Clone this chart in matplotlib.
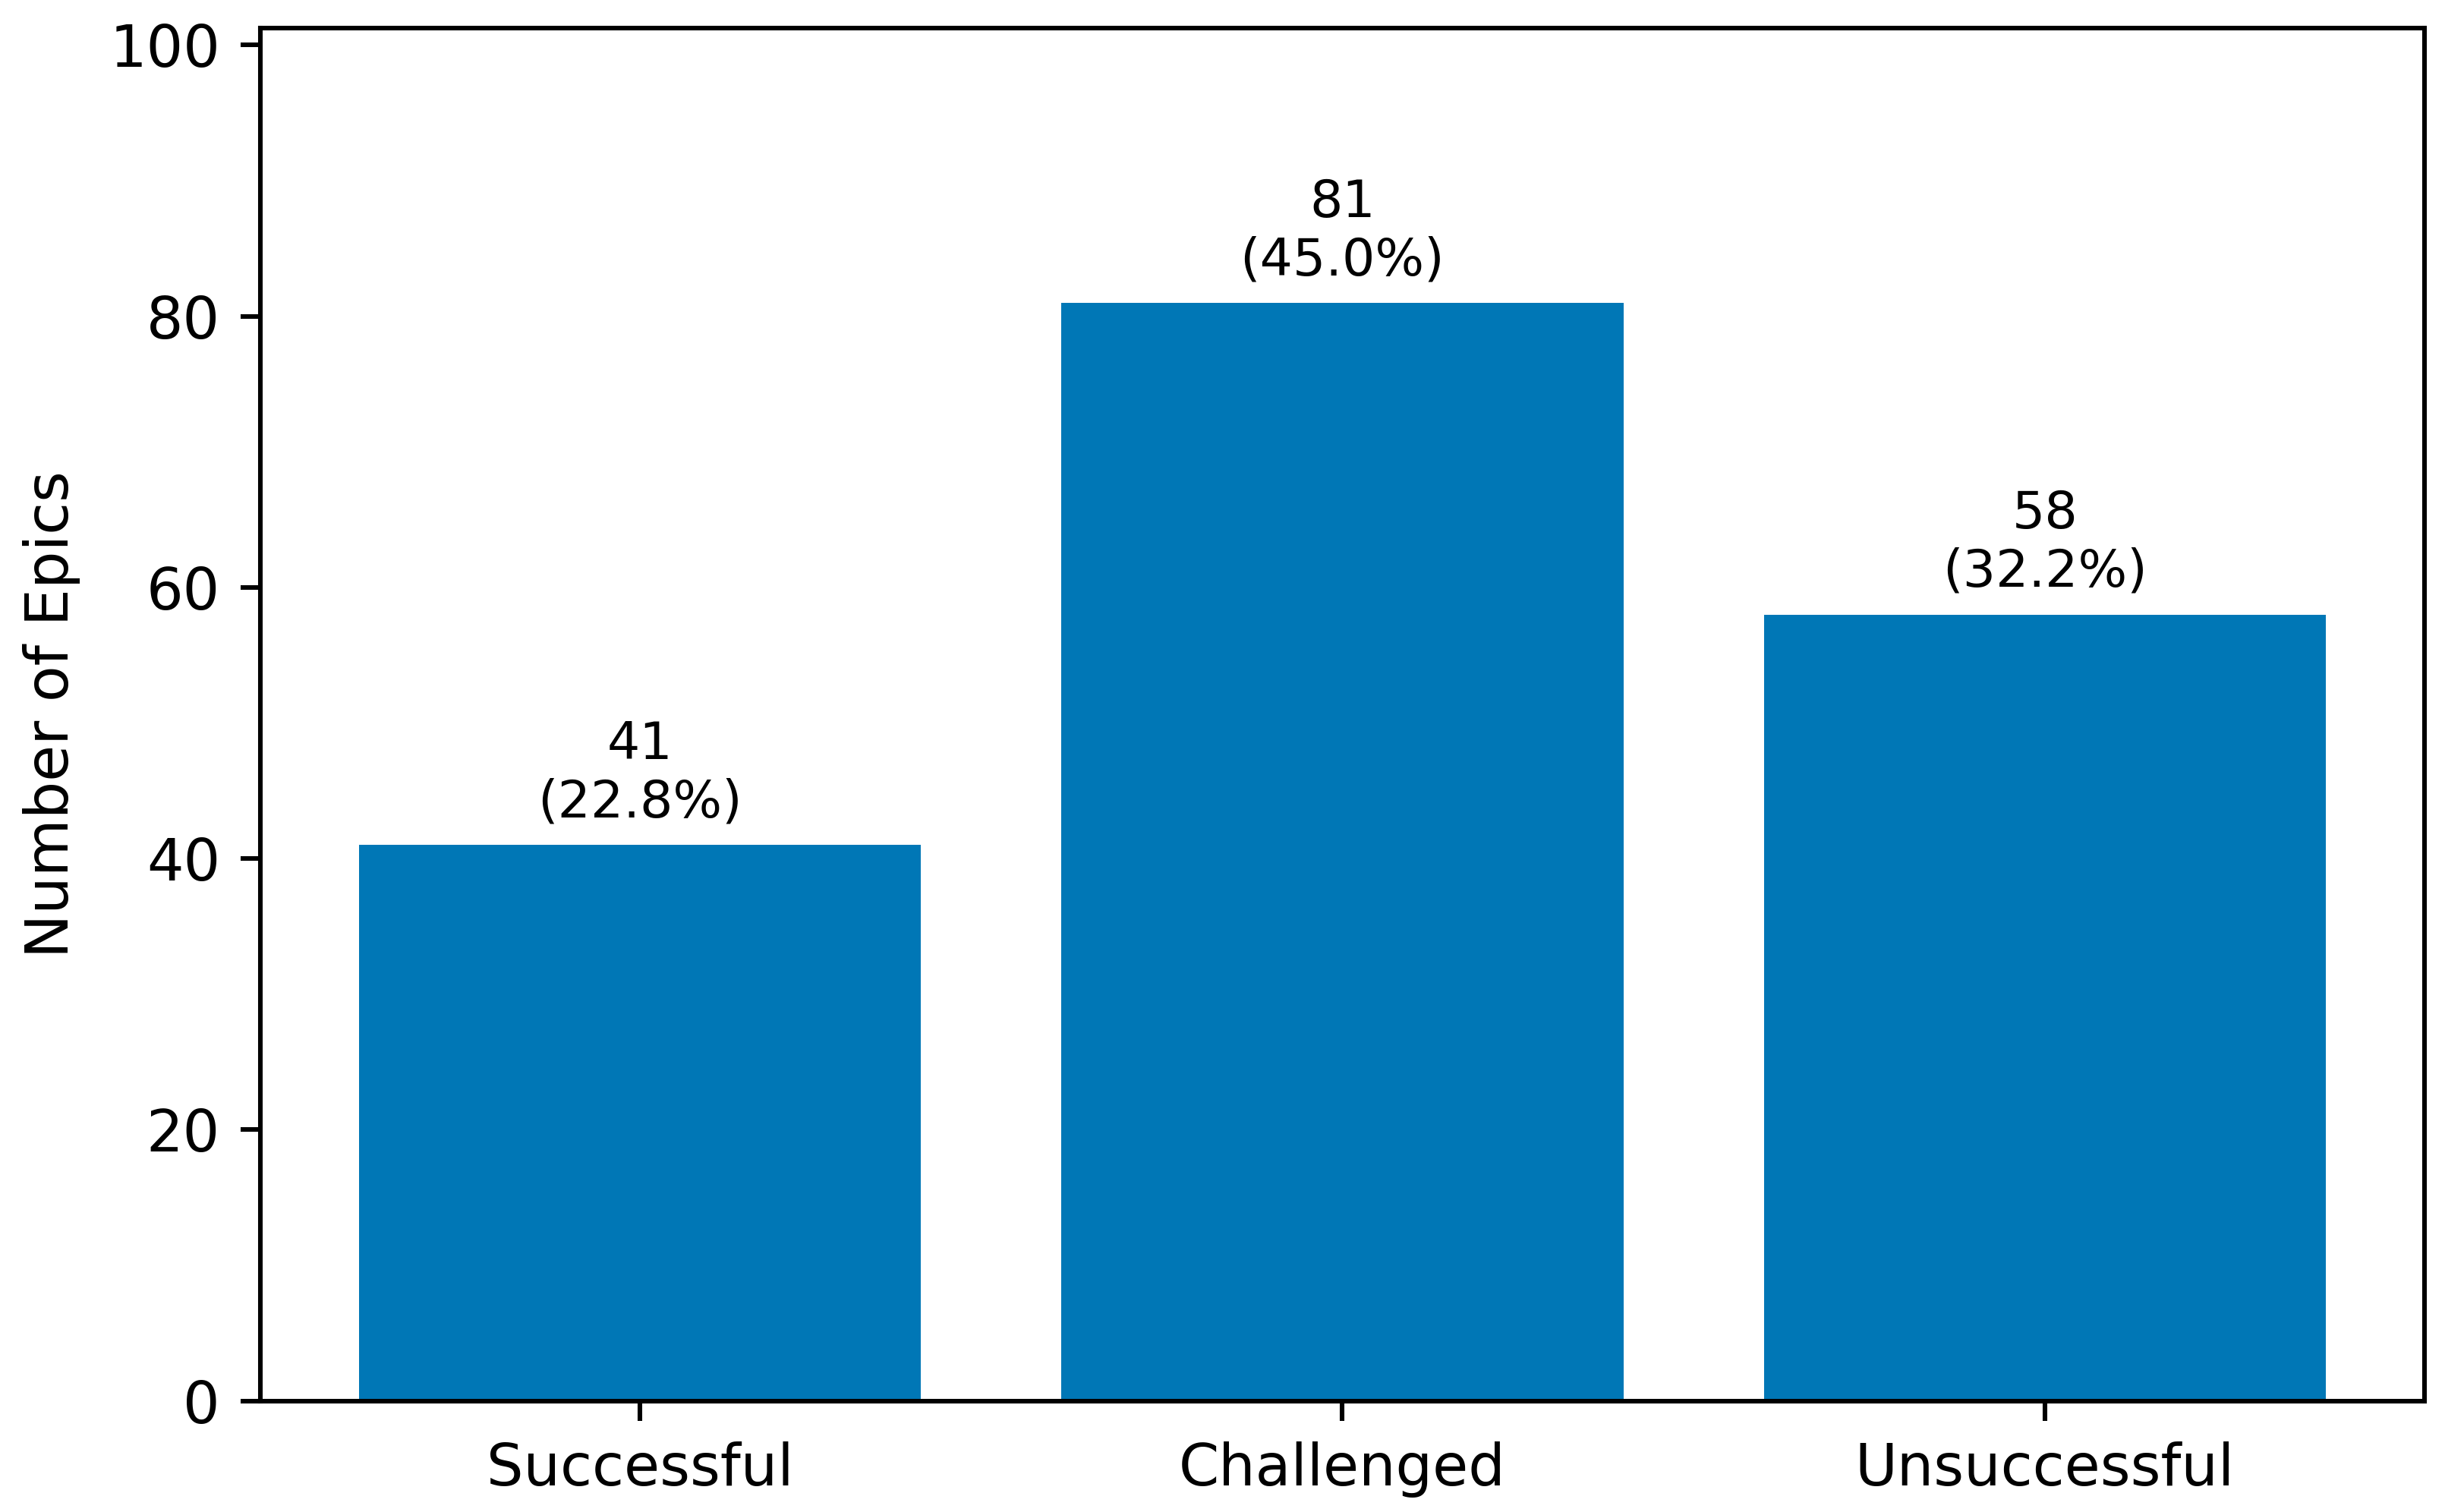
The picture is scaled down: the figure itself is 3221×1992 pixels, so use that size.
import matplotlib.pyplot as plt

# Epic outcome counts
categories = ['Successful', 'Challenged', 'Unsuccessful']
counts = [41, 81, 58]
percents = [22.8, 45.0, 32.2]

DPI = 545
fig, ax = plt.subplots(figsize=(3221 / DPI, 1992 / DPI), dpi=DPI)
fig.subplots_adjust(left=0.1065, right=0.9915, bottom=0.0735, top=0.9814)

bars = ax.bar(categories, counts, width=0.8, color='#0077B6')

labels = [f'{c}\n({p:.1f}%)' for c, p in zip(counts, percents)]
ax.bar_label(bars, labels=labels, padding=3, fontsize=9)

ax.set_ylim(0, max(counts) * 1.25)
ax.set_ylabel('Number of Epics', fontsize=10.3, labelpad=5)
ax.tick_params(labelsize=10.1)

fig.savefig('out.png', dpi=DPI)
